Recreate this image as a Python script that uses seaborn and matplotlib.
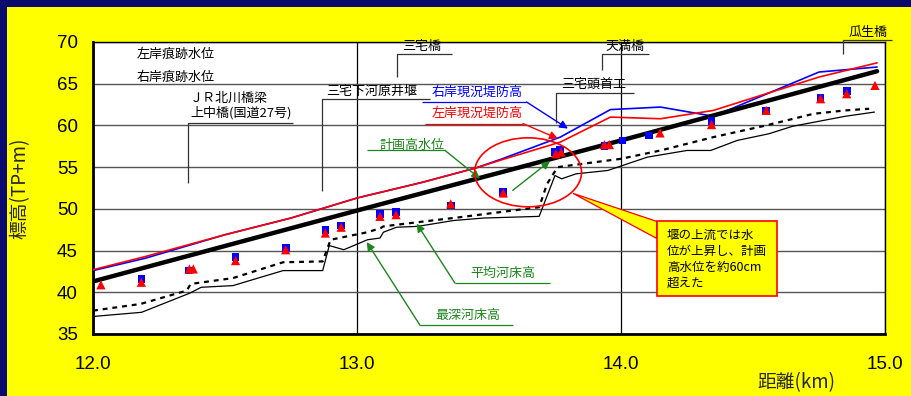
import matplotlib
matplotlib.use("Agg")
import matplotlib.pyplot as plt
from matplotlib.patches import Ellipse, Polygon, Rectangle
import pandas as pd
import seaborn as sns

# ---- data: distance from river mouth (km) and elevation (TP+m) ----
plan_km = [12.0, 13.0, 14.0, 14.97]
plan_hwl = [41.3, 49.8, 58.2, 66.5]

levee_km = [12.0, 12.2, 12.5, 12.75, 13.0, 13.25, 13.45, 13.55, 13.77,
            13.96, 14.15, 14.35, 14.75, 14.97]
left_levee = [42.7, 44.3, 46.9, 48.9, 51.3, 53.2, 54.9, 55.9, 58.0,
              61.0, 60.8, 61.8, 65.8, 67.5]
right_levee = [42.6, 44.1, 46.9, 48.9, 51.3, 53.2, 54.9, 56.0, 58.6,
               61.9, 62.2, 61.1, 66.4, 67.0]

avg_bed_km = [12.0, 12.18, 12.355, 12.37, 12.53, 12.72, 12.87, 12.9, 13.04,
              13.09, 13.1, 13.23, 13.39, 13.69, 13.72, 13.76, 13.83, 14.0,
              14.15, 14.35, 14.55, 14.73, 14.85, 14.94]
avg_bed = [37.8, 38.6, 40.2, 41.0, 41.7, 43.6, 43.7, 46.3, 47.2,
           47.7, 47.9, 48.4, 49.0, 50.2, 53.0, 55.0, 55.3, 56.0,
           57.0, 58.6, 60.0, 61.4, 61.8, 62.0]

deep_bed_km = [12.0, 12.184, 12.367, 12.41, 12.53, 12.72, 12.87, 12.895,
               12.95, 13.04, 13.087, 13.1, 13.15, 13.23, 13.365, 13.48,
               13.69, 13.75, 13.775, 13.83, 13.95, 14.10, 14.25, 14.34,
               14.44, 14.56, 14.65, 14.75, 14.85, 14.96]
deep_bed = [37.1, 37.6, 39.9, 40.6, 40.8, 42.6, 42.6, 45.6,
            45.1, 46.3, 46.5, 47.2, 47.8, 47.9, 48.6, 48.9,
            49.1, 54.0, 53.6, 54.2, 54.6, 56.2, 57.0, 57.0,
            58.2, 59.0, 59.9, 60.5, 61.1, 61.6]

right_mark_km = [12.183, 12.361, 12.54, 12.73, 12.88, 12.94, 13.087, 13.148,
                 13.355, 13.554, 13.75, 13.77, 13.937, 14.006, 14.106, 14.343,
                 14.55, 14.756, 14.855]
right_mark = [41.6, 42.6, 44.2, 45.3, 47.5, 48.0, 49.4, 49.6,
              50.4, 52.0, 56.8, 57.1, 57.5, 58.2, 58.8, 60.5,
              61.8, 63.3, 64.1]

left_mark_km = [12.03, 12.183, 12.365, 12.38, 12.54, 12.73, 12.88, 12.94,
                13.087, 13.148, 13.355, 13.554, 13.753, 13.773, 13.937,
                13.956, 14.148, 14.343, 14.55, 14.756, 14.855, 14.962]
left_mark = [40.9, 41.2, 42.8, 42.8, 43.8, 45.1, 47.1, 47.8,
             49.1, 49.3, 50.6, 51.9, 56.6, 56.8, 57.7,
             57.7, 59.1, 60.1, 61.8, 63.2, 63.8, 64.8]

x_ticks = [12.0, 13.0, 14.0, 15.0]
x_tick_labels = ["12.0", "13.0", "14.0", "15.0"]
y_ticks = [35, 40, 45, 50, 55, 60, 65, 70]

# ---- styling ----
sns.set_theme(style="white")
plt.rcParams["font.family"] = ["Liberation Sans", "Noto Sans CJK JP", "DejaVu Sans"]
CJK = ["Noto Sans CJK JP", "Liberation Sans", "DejaVu Sans"]
YELLOW = "#ffff00"
GREEN = "#1c861c"

fig = plt.figure(figsize=(9.11, 3.96), dpi=100, facecolor=YELLOW)
ax = fig.add_axes([93 / 911, 62 / 396, 792 / 911, 292 / 396])
ax.set_facecolor("white")

# navy frame strips along the top and left edges
fig.add_artist(Rectangle((0, 1 - 7 / 396), 1, 7 / 396, transform=fig.transFigure,
                         facecolor="#0b0b6e", edgecolor="none"))
fig.add_artist(Rectangle((0, 0), 7 / 911, 1, transform=fig.transFigure,
                         facecolor="#0b0b6e", edgecolor="none"))

# ---- lines ----
sns.lineplot(x=deep_bed_km, y=deep_bed, ax=ax, color="black", lw=0.9,
             sort=False, estimator=None, zorder=3)
sns.lineplot(x=avg_bed_km, y=avg_bed, ax=ax, color="black", lw=1.6,
             linestyle=(0, (2.2, 2.2)), sort=False, estimator=None, zorder=3)
sns.lineplot(x=levee_km, y=right_levee, ax=ax, color="#0000ff", lw=1.2,
             sort=False, estimator=None, zorder=4)
sns.lineplot(x=levee_km, y=left_levee, ax=ax, color="#ff0000", lw=1.2,
             sort=False, estimator=None, zorder=4)
sns.lineplot(x=plan_km, y=plan_hwl, ax=ax, color="black", lw=3.2,
             sort=False, estimator=None, zorder=5)

# ---- high-water marks ----
sns.scatterplot(x=right_mark_km, y=right_mark, ax=ax, marker="s", s=30,
                color="#0000ff", edgecolor="none", zorder=6)
sns.scatterplot(x=left_mark_km, y=left_mark, ax=ax, marker="^", s=44,
                color="#ff0000", edgecolor="none", zorder=7)

# ---- axes ----
ax.set_xlim(12.0, 15.0)
ax.set_ylim(35, 70)
ax.set_xticks(x_ticks)
ax.set_xticklabels(x_tick_labels)
ax.set_yticks(y_ticks)
ax.tick_params(axis="both", length=0, labelsize=13.5, colors="black")
ax.tick_params(axis="y", pad=11)
ax.tick_params(axis="x", pad=16)
ax.xaxis.grid(True, color="black", lw=0.9)
ax.yaxis.grid(True, color="#555555", lw=1.0)
ax.set_axisbelow(True)
for side in ["top", "right"]:
    ax.spines[side].set_linewidth(1.0)
    ax.spines[side].set_color("black")
for side in ["left", "bottom"]:
    ax.spines[side].set_linewidth(2.0)
    ax.spines[side].set_color("black")
ax.set_xlabel("")
ax.set_ylabel("")

fig.text(20 / 911, 0.525, "標高(TP+m)", rotation=90, ha="center", va="center",
         fontsize=13.5, family=CJK)
fig.text(796 / 911, 13 / 396, "距離(km)", ha="center", va="center",
         fontsize=13.5, family=CJK)

FS = 9.4


def label(x, y, s, color="black"):
    ax.text(x, y, s, ha="left", va="center", fontsize=FS, color=color,
            family=CJK, zorder=9, clip_on=False)


def path(xs, ys, color, lw=0.9):
    ax.plot(xs, ys, color=color, lw=lw, zorder=8, clip_on=False,
            solid_capstyle="butt")


def arrow(tail, tip, color):
    ax.annotate("", xy=tip, xytext=tail, zorder=8,
                arrowprops=dict(arrowstyle="-|>", color=color, lw=1.0,
                                mutation_scale=12, shrinkA=0, shrinkB=0))


# trace-level captions
label(12.167, 68.5, "左岸痕跡水位")
label(12.167, 65.77, "右岸痕跡水位")

# structure leaders
label(12.367, 63.25, "ＪＲ北川橋梁")
label(12.367, 61.57, "上中橋(国道27号)")
path([12.758, 12.359, 12.359], [60.29, 60.29, 53.06], "#333333")

label(12.883, 64.09, "三宅下河原井堰")
path([13.277, 12.867, 12.867], [63.13, 63.13, 52.13], "#333333")

label(13.17, 69.48, "三宅橋")
path([13.36, 13.152, 13.152], [68.53, 68.53, 65.8], "#333333")

label(13.943, 69.48, "天満橋")
path([14.106, 13.927, 13.927], [68.53, 68.53, 66.69], "#333333")

label(13.773, 64.93, "三宅頭首工")
path([14.049, 13.754, 13.754], [63.93, 63.93, 60.29], "#333333")

label(14.86, 71.2, "瓜生橋")
path([15.025, 14.841, 14.841], [70.29, 70.29, 68.6], "#333333")

# coloured series captions with pointers
label(13.283, 64.0, "右岸現況堤防高", "#0000ff")
path([13.245, 13.642], [62.81, 62.81], "#0000ff")
arrow((13.642, 62.81), (13.799, 59.62), "#0000ff")

label(13.284, 61.41, "左岸現況堤防高", "#ff0000")
path([13.258, 13.629], [60.22, 60.22], "#ff0000")
arrow((13.629, 60.22), (13.761, 58.42), "#ff0000")

label(13.087, 57.61, "計画高水位", GREEN)
path([13.037, 13.333], [57.01, 57.01], GREEN)
arrow((13.333, 57.01), (13.466, 53.62), GREEN)
arrow((13.59, 52.22), (13.731, 55.73), GREEN)

label(13.428, 42.3, "平均河床高", GREEN)
path([13.731, 13.371], [41.1, 41.1], GREEN)
arrow((13.371, 41.1), (13.226, 48.23), GREEN)

label(13.295, 37.23, "最深河床高", GREEN)
path([13.591, 13.239], [36.03, 36.03], GREEN)
arrow((13.239, 36.03), (13.037, 46.02), GREEN)

# highlighted reach and callout
ax.add_patch(Ellipse((13.648, 54.38), 0.405, 8.27, facecolor="none",
                     edgecolor="#ff0000", lw=1.2, zorder=8))
ax.add_patch(Polygon([(13.818, 51.86), (14.135, 48.5), (14.135, 46.46)],
                     closed=True, facecolor=YELLOW, edgecolor="#ff0000",
                     lw=0.9, zorder=8))
ax.add_patch(Rectangle((14.135, 39.54), 0.457, 9.0, facecolor=YELLOW,
                       edgecolor="#ff0000", lw=1.2, zorder=8))
ax.text(14.174, 43.96, "堰の上流では水\n位が上昇し、計画\n高水位を約60cm\n超えた",
        ha="left", va="center", fontsize=9, linespacing=1.3, color="black",
        family=CJK, zorder=9)

fig.savefig("out.png", dpi=100, facecolor=YELLOW)
